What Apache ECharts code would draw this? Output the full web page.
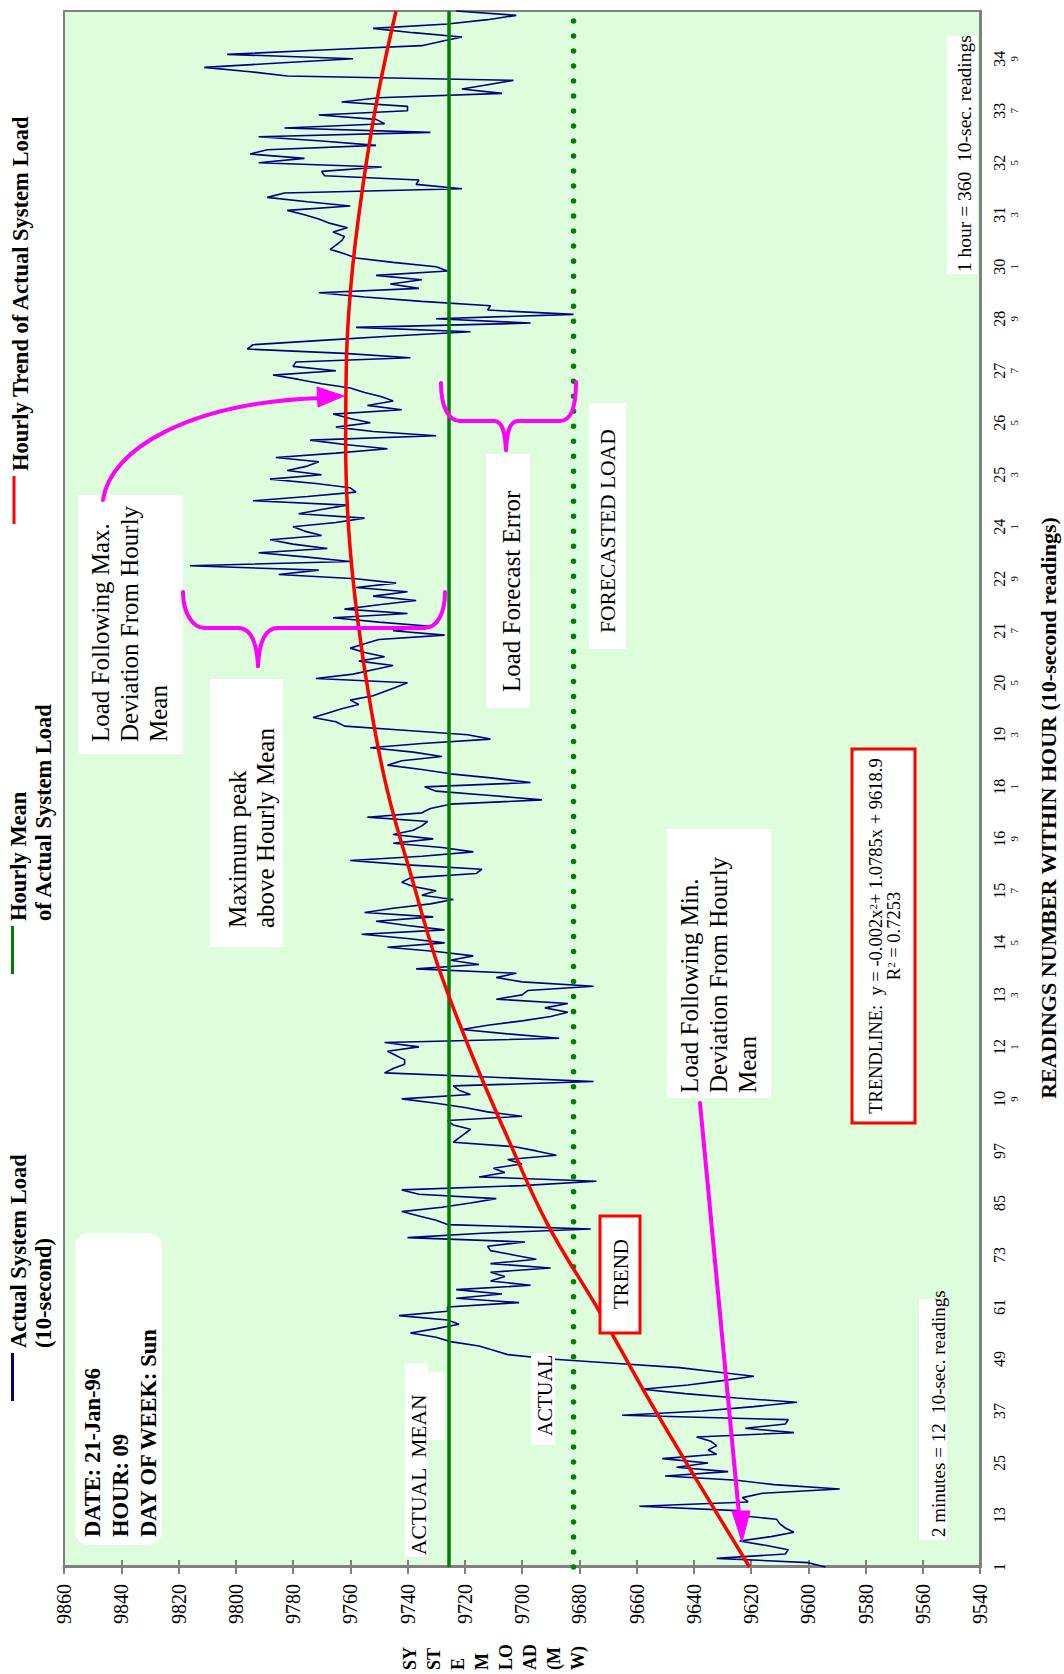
<!DOCTYPE html>
<html><head><meta charset="utf-8">
<script src="https://cdn.jsdelivr.net/npm/echarts@6/dist/echarts.min.js"></script>
<style>
html,body{margin:0;padding:0;width:1064px;height:1674px;overflow:hidden;background:#fff;}
#chart{position:absolute;left:0;top:0;width:1674px;height:1064px;transform-origin:0 0;transform:translate(0,1674px) rotate(-90deg);}
</style></head><body><div id="chart"></div>
<script>
// ---- data ----
const readings = Array.from({length: 360}, (_, i) => String(i + 1));
const loads = [
9594,9600,9632,9608,9607,9615,9624,9613,9605,9608,
9610,9611,9626,9625,9659,9621,9623,9616,9589,9612,
9625,9650,9628,9646,9635,9651,9632,9635,9632,9634,
9639,9605,9622,9608,9607,9665,9637,9619,9604,9625,
9643,9658,9642,9630,9619,9632,9645,9668,9690,9705,
9710,9715,9725,9730,9739,9730,9722,9726,9743,9726,
9726,9701,9723,9707,9723,9697,9711,9706,9711,9690,
9711,9695,9703,9711,9712,9699,9740,9714,9676,9726,
9730,9736,9742,9728,9718,9709,9736,9742,9700,9674,
9715,9706,9710,9700,9705,9688,9695,9703,9724,9722,
9720,9718,9724,9726,9700,9712,9720,9730,9742,9718,
9722,9724,9675,9710,9748,9745,9741,9741,9744,9747,
9736,9748,9687,9705,9721,9712,9700,9690,9684,9692,
9684,9709,9700,9698,9675,9700,9709,9702,9737,9715,
9725,9717,9730,9747,9727,9740,9756,9727,9740,9751,
9731,9755,9745,9732,9724,9735,9730,9738,9742,9739,
9716,9714,9740,9760,9735,9717,9728,9745,9731,9745,
9738,9735,9733,9754,9735,9732,9725,9693,9711,9730,
9734,9697,9710,9725,9735,9747,9742,9728,9738,9753,
9735,9711,9719,9740,9762,9765,9773,9768,9763,9757,
9760,9752,9748,9744,9740,9772,9759,9752,9745,9757,
9748,9755,9760,9755,9750,9727,9745,9731,9750,9766,
9740,9762,9750,9737,9752,9740,9758,9744,9758,9785,
9771,9816,9760,9775,9792,9768,9780,9788,9770,9776,
9780,9765,9755,9778,9770,9761,9794,9775,9758,9760,
9772,9788,9770,9782,9775,9771,9786,9765,9747,9762,
9774,9730,9752,9765,9753,9760,9766,9742,9754,9745,
9749,9755,9760,9770,9778,9787,9765,9780,9779,9739,
9762,9796,9794,9770,9745,9718,9758,9697,9730,9682,
9712,9711,9735,9755,9771,9736,9746,9735,9751,9726,
9730,9745,9758,9762,9767,9765,9763,9762,9766,9761,
9767,9771,9776,9782,9760,9775,9789,9783,9721,9737,
9736,9769,9770,9749,9792,9776,9795,9789,9751,9770,
9792,9732,9783,9748,9751,9771,9740,9740,9763,9750,
9707,9721,9712,9703,9782,9795,9811,9785,9759,9803,
9770,9735,9728,9721,9738,9752,9726,9712,9702,9723
];
const trendReadings = [1,20,40,60,80,100,120,140,160,180,200,220,240,260,280,300,320,340,360];
const trendLoads = [9620.5,9638,9656,9673,9691,9705,9718,9729.5,9738.5,9747,9753,9757.5,9760.5,9761.6,9761.3,9759.3,9755.5,9750.5,9744];
const MEAN_LOAD = 9725.5;
const FORECAST_LOAD = 9682;
const LOAD_MIN = 9540, LOAD_MAX = 9860, LOAD_STEP = 20;

const S_ACTUAL = 'Actual System Load (10-second)';
const S_MEAN = 'Hourly Mean of Actual System Load';
const S_TREND = 'Hourly Trend of Actual System Load';
const S_FORE = 'Forecasted Load';

// ---- styling helpers ----
const FONT = '"Liberation Serif", "Times New Roman", serif';
const MAG = '#ff00ff';
function box(x, y, w, h, o) {
  o = o || {};
  return {type: 'rect', z: 100, shape: {x: x, y: y, width: w, height: h, r: o.r || 0},
    style: {fill: '#ffffff', stroke: o.stroke || null, lineWidth: o.lw || 0}};
}
function txt(x, y, text, size, o) {
  o = o || {};
  const st = {text: text, fontSize: size, fontFamily: FONT, fontWeight: o.bold ? 'bold' : 'normal',
    fill: '#000', align: o.align || 'left', verticalAlign: o.va || 'middle',
    textAlign: o.align || 'left', textVerticalAlign: o.va || 'middle'};
  if (o.lh) st.lineHeight = o.lh;
  if (o.rich) st.rich = o.rich;
  return {type: 'text', z: 101, x: x, y: y, style: st};
}
function mline(x1, y1, x2, y2) {
  return {type: 'line', z: 102, shape: {x1: x1, y1: y1, x2: x2, y2: y2}, style: {stroke: MAG, lineWidth: 4, lineCap: 'round'}};
}
function mcurve(x1, y1, c1x, c1y, c2x, c2y, x2, y2) {
  return {type: 'bezierCurve', z: 102, shape: {x1: x1, y1: y1, cpx1: c1x, cpy1: c1y, cpx2: c2x, cpy2: c2y, x2: x2, y2: y2},
    style: {stroke: MAG, lineWidth: 4, fill: 'none', lineCap: 'round'}};
}
function mhead(pts) {
  return {type: 'polygon', z: 103, shape: {points: pts}, style: {fill: MAG, stroke: MAG, lineWidth: 1}};
}

const graphics = [
  // date box
  box(129, 75, 312, 87, {r: 14}),
  txt(137, 78, 'DATE: 21-Jan-96\nHOUR: 09\nDAY OF WEEK: Sun', 22.5, {bold: true, va: 'top', lh: 28}),
  // ACTUAL MEAN label
  box(117, 405, 194, 23), box(234, 428, 68, 17),
  txt(119, 419, 'ACTUAL  MEAN', 21.5),
  // ACTUAL label
  box(229, 531, 92, 24),
  txt(238, 545, 'ACTUAL', 20),
  // TREND box
  box(341, 600, 117, 40, {stroke: '#ff0000', lw: 3}),
  txt(400, 621, 'TREND', 21, {align: 'center'}),
  // trendline equation box
  box(551, 852, 374, 63, {stroke: '#ff0000', lw: 3}),
  txt(738, 885, '{a|TRENDLINE:  y = -0.002x}{s|2}{a|+ 1.0785x + 9618.9}\n{a|R}{s|2}{a| = 0.7253}', 18.5,
    {align: 'center', rich: {a: {fontSize: 18.5, fontFamily: FONT, lineHeight: 18, fill: '#000'}, s: {fontSize: 11, fontFamily: FONT, lineHeight: 18, verticalAlign: 'top', fill: '#000'}}}),
  // Maximum peak
  box(727, 210, 268, 73),
  txt(746, 223, 'Maximum peak\nabove Hourly Mean', 25, {va: 'top', lh: 28}),
  // Load following max
  box(920, 78, 259, 105),
  txt(932, 86, 'Load Following Max.\nDeviation From Hourly\nMean', 25, {va: 'top', lh: 29}),
  // Load forecast error
  box(966, 486, 254, 44),
  txt(982, 511, 'Load Forecast Error', 25),
  // FORECASTED LOAD
  box(1025, 589, 246, 37),
  txt(1041, 608, 'FORECASTED LOAD', 21.5),
  // Load following min
  box(576, 667, 269, 104),
  txt(581, 675, 'Load Following Min.\nDeviation From Hourly\nMean', 25, {va: 'top', lh: 29}),
  // notes
  box(1400, 947, 238, 30),
  txt(1402, 964, '1 hour = 360  10-sec. readings', 19.5),
  box(134, 919, 241, 28),
  txt(137, 938, '2 minutes = 12  10-sec. readings', 19),
  // y axis title
  txt(4, 494, 'SY\nST\nE\nM\nLO\nAD\n(M\nW)', 18, {bold: true, lh: 24}),
  // curved arrow to the trend
  mcurve(1174, 103, 1225, 110, 1272, 190, 1276, 322),
  mhead([[1278, 344], [1267, 318], [1287, 317]]),
  // brace: max deviation
  mcurve(1082, 183, 1062, 183, 1046, 192, 1046, 205),
  mline(1046, 205, 1046, 238),
  mcurve(1046, 238, 1046, 252, 1030, 257, 1008, 258),
  mcurve(1046, 278, 1046, 264, 1030, 259, 1008, 258),
  mline(1046, 278, 1046, 424),
  mcurve(1046, 424, 1046, 438, 1062, 445, 1082, 445),
  // brace: forecast error
  mcurve(1291, 441, 1268, 441, 1253, 448, 1253, 460),
  mline(1253, 460, 1253, 494),
  mcurve(1253, 494, 1253, 503, 1240, 505, 1224, 506),
  mcurve(1253, 518, 1253, 509, 1240, 507, 1224, 506),
  mline(1253, 518, 1253, 560),
  mcurve(1253, 560, 1253, 572, 1270, 576, 1292, 576),
  // straight arrow to min deviation
  mline(571, 700, 160, 739),
  mhead([[132, 742], [163, 732], [163, 750]])
];

const LEGEND_LINES = {};
LEGEND_LINES[S_ACTUAL] = ['Actual System Load', '(10-second)'];
LEGEND_LINES[S_MEAN] = ['Hourly Mean', 'of Actual System Load'];
LEGEND_LINES[S_TREND] = ['Hourly Trend of Actual System Load'];

function legendOf(name, left, top, gap) {
  return {data: [name], left: left, top: top, padding: 0, itemWidth: 48, itemHeight: 3, icon: 'rect',
    selectedMode: false, orient: 'horizontal',
    formatter: function (n) { return '{g| }\n' + LEGEND_LINES[n].map(function (l) { return '{a|' + l + '}'; }).join('\n'); },
    textStyle: {rich: {
      g: {fontSize: 8, lineHeight: gap},
      a: {fontFamily: FONT, fontWeight: 'bold', fontSize: 22.5, color: '#000', lineHeight: 25}
    }}};
}

const chart = echarts.init(document.getElementById('chart'), null, {renderer: 'svg', width: 1674, height: 1064});
chart.setOption({
  animation: false,
  backgroundColor: '#ffffff',
  textStyle: {fontFamily: FONT},
  grid: {left: 107, right: 11, top: 64, bottom: 80, show: true, backgroundColor: '#ddfddd', borderColor: '#808080', borderWidth: 2},
  legend: [
    legendOf(S_ACTUAL, 273, -16.5, 37),
    legendOf(S_MEAN, 700, -16.5, 37),
    legendOf(S_TREND, 1150, -2.5, 12)
  ],
  xAxis: {
    type: 'category', data: readings, boundaryGap: false,
    axisLine: {lineStyle: {color: '#808080', width: 3}},
    axisTick: {show: false},
    splitLine: {show: false},
    axisLabel: {
      interval: 11, fontSize: 16, fontFamily: FONT, color: '#000', margin: 11, lineHeight: 16,
      formatter: function (v) { return v.length > 2 ? v.slice(0, 2) + '\n{s|' + v.slice(2) + '}' : v; },
      rich: {s: {fontSize: 11, lineHeight: 13, fontFamily: FONT, color: '#000'}}
    },
    name: 'READINGS NUMBER WITHIN HOUR (10-second readings)',
    nameLocation: 'middle', nameGap: 57,
    nameTextStyle: {fontFamily: FONT, fontWeight: 'bold', fontSize: 22, color: '#000', padding: [0, 38, 0, 0]}
  },
  yAxis: [{
    type: 'value', min: LOAD_MIN, max: LOAD_MAX, interval: LOAD_STEP, position: 'left',
    axisLine: {show: true, lineStyle: {color: '#808080', width: 3}},
    axisTick: {show: true, length: 7, lineStyle: {color: '#808080', width: 2}},
    splitLine: {show: false},
    axisLabel: {fontSize: 20, fontFamily: FONT, color: '#000', margin: 17, formatter: function (v) { return String(v); }}
  }, {
    type: 'value', min: LOAD_MIN, max: LOAD_MAX, interval: LOAD_STEP, position: 'left',
    axisLine: {show: false},
    axisTick: {show: true, inside: true, length: 7, lineStyle: {color: '#808080', width: 2}},
    splitLine: {show: false},
    axisLabel: {show: false}
  }],
  series: [
    {name: S_ACTUAL, type: 'line', data: loads, yAxisIndex: 0, symbol: 'none', color: '#000080',
      lineStyle: {color: '#000080', width: 1.6}, z: 2},
    {name: S_MEAN, type: 'line', yAxisIndex: 0, symbol: 'none', color: '#008000',
      data: [[readings[0], MEAN_LOAD], [readings[readings.length - 1], MEAN_LOAD]],
      lineStyle: {color: '#008000', width: 3.5}, z: 3},
    {name: S_FORE, type: 'line', yAxisIndex: 0, symbol: 'none', color: '#008000',
      data: [[readings[0], FORECAST_LOAD], [readings[readings.length - 1], FORECAST_LOAD]],
      lineStyle: {color: '#008000', width: 5.5, type: [0.01, 15], cap: 'round'}, z: 3},
    {name: S_TREND, type: 'line', yAxisIndex: 0, symbol: 'none', color: '#ff0000', smooth: 0.4,
      data: trendReadings.map(function (r, i) { return [String(r), trendLoads[i]]; }),
      lineStyle: {color: '#ff0000', width: 3.5}, z: 4}
  ],
  graphic: graphics
});
</script>
</body></html>
